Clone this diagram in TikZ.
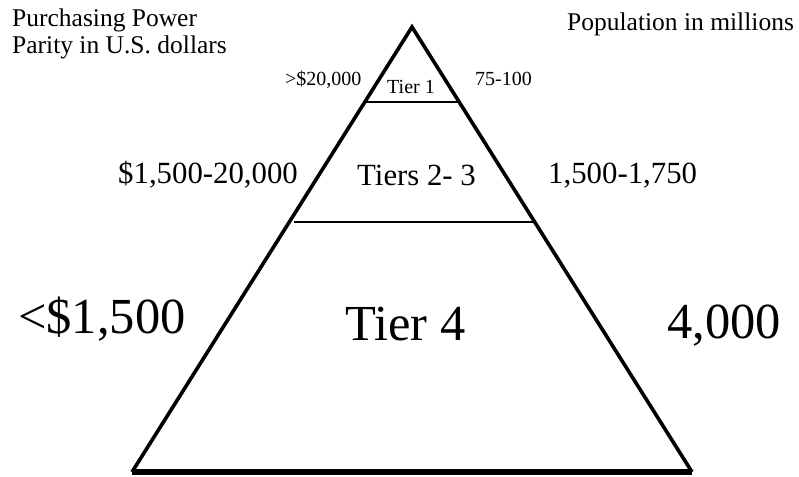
\documentclass[tikz,border=0pt]{standalone}
\usepackage{fontspec}
\setmainfont{Liberation Serif}
\begin{document}
\begin{tikzpicture}[x=1pt,y=-1pt,
  lbl/.style={inner sep=0pt, anchor=base west},
  fsmall/.style={font=\fontsize{20}{22}\selectfont},
  fhead/.style={font=\fontsize{25.5}{27}\selectfont},
  fmid/.style={font=\fontsize{30.8}{33}\selectfont},
  fbig/.style={font=\fontsize{50.5}{54}\selectfont},
  side/.style={line width=3.6pt, line join=miter},
  tierline/.style={line width=1.6pt}]
\useasboundingbox (0,0) rectangle (799,476);
\coordinate (apex) at (412,27);
\coordinate (bl) at (132,472);
\coordinate (br) at (692,472);
\coordinate (t1l) at (366,102);
\coordinate (t1r) at (458,102);
\coordinate (t2l) at (294,222);
\coordinate (t2r) at (533,222);
\draw[side] (bl) -- (apex) -- (br);
\draw[line width=5.5pt] (bl) -- (br);
\draw[tierline] (t1l) -- (t1r);
\draw[tierline] (t2l) -- (t2r);
\node[lbl,fhead] (ppp1) at (12,27) {Purchasing Power};
\node[lbl,fhead] (ppp2) at (12,54) {Parity in U.S. dollars};
\node[lbl,fhead] (pop) at (567,31) {Population in millions};
\node[lbl,fsmall] (p1) at (285,86) {>\$20,000};
\node[lbl,fsmall] (t1) at (387,93) {Tier 1};
\node[lbl,fsmall] (n1) at (475,85) {75-100};
\node[lbl,fmid] (p2) at (118,183) {\$1,500-20,000};
\node[lbl,fmid] (t2) at (357,185) {Tiers 2- 3};
\node[lbl,fmid] (n2) at (548,183) {1,500-1,750};
\node[lbl,fbig] (p4) at (18,333) {<\$1,500};
\node[lbl,fbig] (t4) at (345,340) {Tier 4};
\node[lbl,fbig] (n4) at (667,338) {4,000};
\end{tikzpicture}
\end{document}
